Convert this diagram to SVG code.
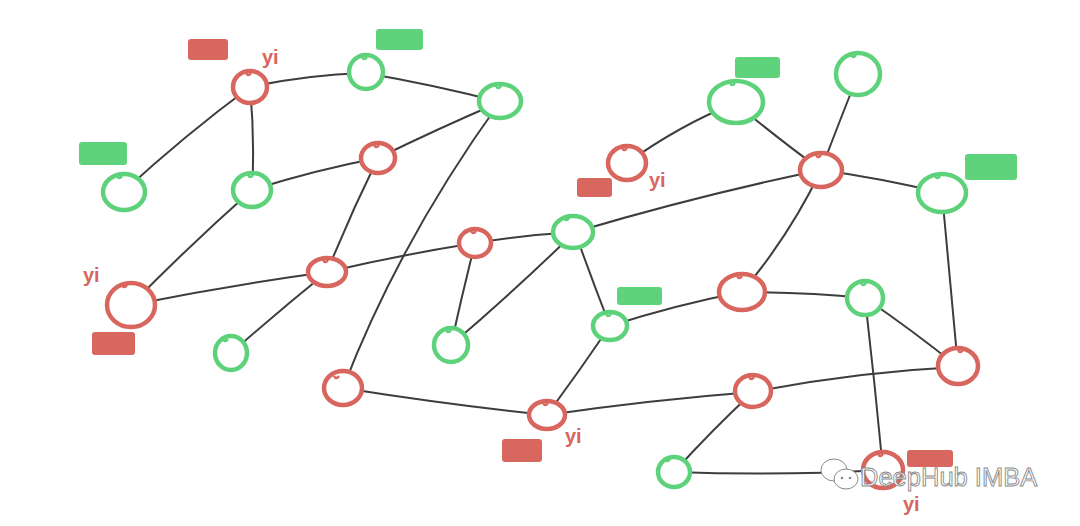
<svg xmlns="http://www.w3.org/2000/svg" width="1080" height="526" viewBox="0 0 1080 526">
<style>
.e{fill:none;stroke:#3d3d3d;stroke-width:2;stroke-linecap:round}
.r{fill:#fff;stroke:#d8665e;stroke-width:4.5}
.g{fill:#fff;stroke:#5dd27a;stroke-width:4.5}
.hr{fill:none;stroke:#d8665e;stroke-width:2.5}
.hg{fill:none;stroke:#5dd27a;stroke-width:2.5}
.rr{fill:#d8675f}
.gr{fill:#5ed37b}
.yi{font-family:"Liberation Sans",Arial,sans-serif;font-size:20px;font-weight:bold;fill:#d8665e}
.wm{font-family:"Liberation Sans",Arial,sans-serif;font-size:25.5px;fill:#fff;stroke:#8a8a8a;stroke-width:0.9}
</style>
<rect width="1080" height="526" fill="#fff"/>
<g id="connectors">
<path class="e" d="M250,87 Q185,135 123,192"/>
<path class="e" d="M250,87 Q305,75 365,73"/>
<path class="e" d="M250,87 Q255,140 252,190"/>
<path class="e" d="M365,73 Q435,85 500,102"/>
<path class="e" d="M500,102 Q435,130 378,158"/>
<path class="e" d="M378,158 Q315,170 252,190"/>
<path class="e" d="M252,190 Q190,245 131,305"/>
<path class="e" d="M378,158 Q350,215 327,272"/>
<path class="e" d="M327,272 Q230,285 131,305"/>
<path class="e" d="M327,272 Q400,255 475,243"/>
<path class="e" d="M327,272 Q280,310 231,353"/>
<path class="e" d="M475,243 Q525,235 575,232"/>
<path class="e" d="M475,243 Q462,295 451,345"/>
<path class="e" d="M500,102 Q400,240 343,388"/>
<path class="e" d="M343,388 Q450,405 547,415"/>
<path class="e" d="M451,345 Q510,295 575,232"/>
<path class="e" d="M575,232 Q700,195 821,170"/>
<path class="e" d="M575,232 Q592,280 610,326"/>
<path class="e" d="M627,163 Q680,125 735,103"/>
<path class="e" d="M735,103 Q780,140 821,170"/>
<path class="e" d="M858,75 Q840,120 821,170"/>
<path class="e" d="M821,170 Q880,178 942,193"/>
<path class="e" d="M821,170 Q790,235 742,292"/>
<path class="e" d="M942,193 Q950,280 958,367"/>
<path class="e" d="M610,326 Q675,305 742,292"/>
<path class="e" d="M610,326 Q580,370 547,415"/>
<path class="e" d="M742,292 Q805,292 865,298"/>
<path class="e" d="M865,298 Q912,330 958,367"/>
<path class="e" d="M865,298 Q875,385 883,470"/>
<path class="e" d="M547,415 Q650,400 753,392"/>
<path class="e" d="M753,392 Q855,372 958,367"/>
<path class="e" d="M753,392 Q712,430 674,472"/>
<path class="e" d="M674,472 Q780,476 883,470"/>
</g>
<g id="n1"><ellipse class="r" cx="250" cy="87" rx="17" ry="16"/><path class="hr" d="M246,73 q2,4 5,0"/><rect class="rr" x="188" y="39" width="40" height="21" rx="3"/><text class="yi" x="262" y="64">yi</text></g>
<g id="n2"><ellipse class="g" cx="366" cy="72" rx="17" ry="17"/><path class="hg" d="M362,57 q2,4 5,0"/><rect class="gr" x="376" y="29" width="47" height="21" rx="3"/></g>
<g id="n3"><ellipse class="g" cx="500" cy="101" rx="21" ry="17"/><path class="hg" d="M496,86 q2,4 5,0"/></g>
<g id="n4"><ellipse class="r" cx="378" cy="158" rx="17" ry="15"/><path class="hr" d="M374,145 q2,4 5,0"/></g>
<g id="n5"><ellipse class="g" cx="252" cy="190" rx="19" ry="17"/><path class="hg" d="M248,175 q2,4 5,0"/></g>
<g id="n6"><ellipse class="g" cx="124" cy="192" rx="21" ry="18"/><path class="hg" d="M117,176 q2,4 5,0"/><rect class="gr" x="79" y="142" width="48" height="23" rx="3"/></g>
<g id="n7"><ellipse class="g" cx="736" cy="102" rx="27" ry="21"/><path class="hg" d="M730,83 q2,4 5,0"/><rect class="gr" x="735" y="57" width="45" height="21" rx="3"/></g>
<g id="n8"><ellipse class="g" cx="858" cy="74" rx="22" ry="21"/><path class="hg" d="M851,55 q2,4 5,0"/></g>
<g id="n9"><ellipse class="r" cx="627" cy="163" rx="19" ry="17"/><path class="hr" d="M622,148 q2,4 5,0"/><rect class="rr" x="577" y="178" width="35" height="19" rx="3"/><text class="yi" x="649" y="187">yi</text></g>
<g id="n10"><ellipse class="r" cx="821" cy="170" rx="21" ry="17"/><path class="hr" d="M816,155 q2,4 5,0"/></g>
<g id="n11"><ellipse class="g" cx="942" cy="193" rx="24" ry="19"/><path class="hg" d="M935,176 q2,4 5,0"/><rect class="gr" x="965" y="154" width="52" height="26" rx="3"/></g>
<g id="n12"><ellipse class="g" cx="573" cy="232" rx="20" ry="16"/><path class="hg" d="M564,218 q2,4 5,0"/></g>
<g id="n13"><ellipse class="r" cx="475" cy="243" rx="16" ry="14"/><path class="hr" d="M471,231 q2,4 5,0"/></g>
<g id="n14"><ellipse class="r" cx="327" cy="272" rx="19" ry="14"/><path class="hr" d="M323,260 q2,4 5,0"/></g>
<g id="n15"><ellipse class="r" cx="131" cy="305" rx="24" ry="22"/><path class="hr" d="M122,285 q2,4 5,0"/><rect class="rr" x="92" y="332" width="43" height="23" rx="3"/><text class="yi" x="83" y="282">yi</text></g>
<g id="n16"><ellipse class="g" cx="231" cy="353" rx="16" ry="17"/><path class="hg" d="M223,339 q2,4 5,0"/></g>
<g id="n17"><ellipse class="g" cx="451" cy="345" rx="17" ry="17"/><path class="hg" d="M446,330 q2,4 5,0"/></g>
<g id="n18"><ellipse class="r" cx="343" cy="388" rx="19" ry="17"/><path class="hr" d="M334,376 q2,4 5,0"/></g>
<g id="n19"><ellipse class="r" cx="547" cy="415" rx="18" ry="14"/><path class="hr" d="M543,403 q2,4 5,0"/><rect class="rr" x="502" y="439" width="40" height="23" rx="3"/><text class="yi" x="565" y="443">yi</text></g>
<g id="n20"><ellipse class="g" cx="610" cy="326" rx="17" ry="14"/><path class="hg" d="M606,314 q2,4 5,0"/><rect class="gr" x="617" y="287" width="45" height="18" rx="3"/></g>
<g id="n21"><ellipse class="r" cx="742" cy="292" rx="23" ry="18"/><path class="hr" d="M737,276 q2,4 5,0"/></g>
<g id="n22"><ellipse class="g" cx="865" cy="298" rx="18" ry="17"/><path class="hg" d="M861,283 q2,4 5,0"/></g>
<g id="n23"><ellipse class="r" cx="958" cy="366" rx="20" ry="18"/><path class="hr" d="M958,350 q2,4 5,0"/></g>
<g id="n24"><ellipse class="r" cx="753" cy="391" rx="18" ry="16"/><path class="hr" d="M749,377 q2,4 5,0"/></g>
<g id="n25"><ellipse class="g" cx="674" cy="472" rx="16" ry="15"/><path class="hg" d="M665,459 q2,4 5,0"/></g>
<g id="n26"><ellipse class="r" cx="883" cy="470" rx="20" ry="18"/><path class="hr" d="M878,454 q2,4 5,0"/><rect class="rr" x="907" y="450" width="46" height="17" rx="3"/><text class="yi" x="903" y="511">yi</text></g>
<g id="watermark">
<ellipse cx="834" cy="470" rx="13" ry="11" fill="#fff" stroke="#8a8a8a" stroke-width="1"/>
<ellipse cx="846" cy="479" rx="12" ry="10" fill="#fff" stroke="#8a8a8a" stroke-width="1"/>
<circle cx="842" cy="478" r="1.3" fill="#8a8a8a"/><circle cx="850" cy="478" r="1.3" fill="#8a8a8a"/>
<text class="wm" x="860" y="486">DeepHub IMBA</text>
</g>
</svg>
